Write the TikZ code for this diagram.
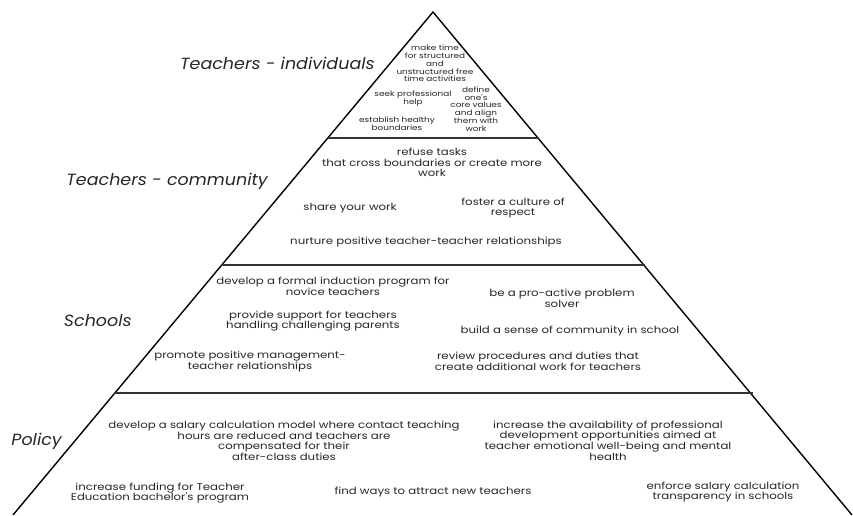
\documentclass[tikz,border=0pt]{standalone}
\usepackage{fontspec}
\setmainfont{Poppins}
\newfontfamily\bodyfont[FakeStretch=1.2]{Poppins}
\newfontfamily\labfont[FakeStretch=1.08]{Poppins}
\begin{document}
\begin{tikzpicture}[x=1pt,y=-1pt,
  side/.style={line width=1.4pt,black},
  divider/.style={line width=2.2pt,black!80},
  lab/.style={font=\labfont\fontsize{16.2}{18}\selectfont\itshape,text=black!85,inner sep=0pt},
  tinytxt/.style={font=\bodyfont\fontsize{7.4}{7.8}\selectfont,align=center,inner sep=0pt,text=black!85},
  txt/.style={font=\bodyfont\fontsize{9.8}{10.6}\selectfont,align=center,inner sep=0pt,text=black!85}]
\useasboundingbox (0,0) rectangle (853,515);
% pyramid
\coordinate (apex) at (433,12);
\coordinate (bl) at (13,515);
\coordinate (br) at (852,515);
\draw[side] (bl) -- (apex) -- (br);
\draw[divider] (327.5,138) -- (538.5,138);
\draw[divider] (221,265) -- (645,265);
\draw[divider] (113.5,393) -- (752.5,393);
% tier labels
\node[lab,anchor=east] (l1) at (375,63) {Teachers - individuals};
\node[lab,anchor=east] (l2) at (268,181) {Teachers - community};
\node[lab,anchor=east] (l3) at (132,321) {Schools};
\node[lab,anchor=east] (l4) at (62,441) {Policy};
% tier 1
\node[tinytxt] (a1) at (435,63.5) {make time\\for structured\\and\\unstructured free\\time activities};
\node[tinytxt] (a2) at (413,99) {seek professional\\help};
\node[tinytxt] (a3) at (476,109) {define\\one's\\core values\\and align\\them with\\work};
\node[tinytxt] (a4) at (397,124) {establish healthy\\boundaries};
% tier 2
\node[txt] (b1) at (432,162.5) {refuse tasks\\that cross boundaries or create more\\work};
\node[txt] (b2) at (350,208) {share your work};
\node[txt] (b3) at (513,208) {foster a culture of\\respect};
\node[txt] (b4) at (426,242) {nurture positive teacher-teacher relationships};
% tier 3
\node[txt] (c1) at (333,286) {develop a formal induction program for\\novice teachers};
\node[txt] (c2) at (313,321) {provide support for teachers\\handling challenging parents};
\node[txt] (c3) at (250,361.5) {promote positive management-\\teacher relationships};
\node[txt] (c4) at (562,298.5) {be a pro-active problem\\solver};
\node[txt] (c5) at (570,331) {build a sense of community in school};
\node[txt] (c6) at (538,361.5) {review procedures and duties that\\create additional work for teachers};
% tier 4
\node[txt] (d1) at (284,441) {develop a salary calculation model where contact teaching\\hours are reduced and teachers are\\compensated for their\\after-class duties};
\node[txt] (d2) at (608,440.5) {increase the availability of professional\\development opportunities aimed at\\teacher emotional well-being and mental\\health};
\node[txt] (d3) at (160,493) {increase funding for Teacher\\Education bachelor's program};
\node[txt] (d4) at (433,492) {find ways to attract new teachers};
\node[txt] (d5) at (723,492) {enforce salary calculation\\transparency in schools};
\end{tikzpicture}
\end{document}
